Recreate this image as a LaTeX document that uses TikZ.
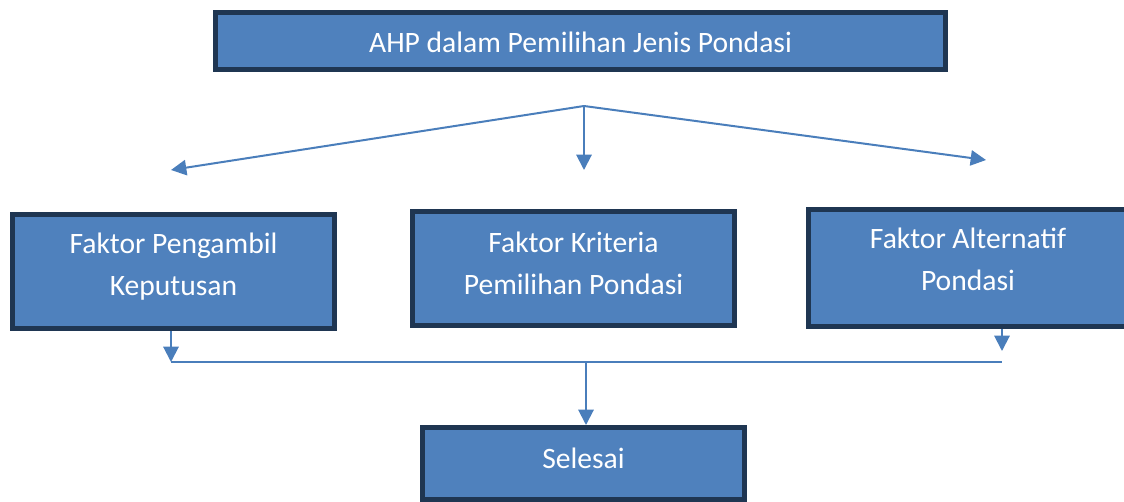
\documentclass[tikz,border=0pt]{standalone}
\usepackage{fontspec}
\setmainfont{Carlito}
\usetikzlibrary{arrows.meta}
\definecolor{boxfill}{HTML}{4F81BD}
\definecolor{boxline}{HTML}{1F3652}
\definecolor{conn}{HTML}{4A7EBB}
\tikzset{
  px/.style={x=0.75pt,y=-0.75pt},
  boxnode/.style={draw=boxline,fill=boxfill,line width=3.75pt,inner sep=0pt,rectangle},
  boxtext/.style={text=white,align=center,font=\fontsize{22.2}{31.5}\selectfont,inner sep=0pt},
  conline/.style={draw=conn,line width=1.5pt},
  conarrow/.style={conline,-{Triangle[length=11.5pt,width=11.5pt]}}
}
\begin{document}
\begin{tikzpicture}[px]
\useasboundingbox (0,0) rectangle (1124,502);
% boxes
\node[boxnode,minimum width=730*0.75pt,minimum height=57*0.75pt] (top) at (580.5,41) {};
\node[boxnode,minimum width=322*0.75pt,minimum height=114*0.75pt] (left) at (173.5,271.5) {};
\node[boxnode,minimum width=322*0.75pt,minimum height=114*0.75pt] (mid) at (573.5,268.5) {};
\node[boxnode,minimum width=319*0.75pt,minimum height=117*0.75pt] (right) at (968,268) {};
\node[boxnode,minimum width=322*0.75pt,minimum height=72*0.75pt] (end) at (583.5,463.5) {};
% texts
\node[boxtext] (toptext) at (580.5,42) {AHP dalam Pemilihan Jenis Pondasi};
\node[boxtext] (lefttext) at (173.5,267) {Faktor Pengambil\\Keputusan};
\node[boxtext] (midtext) at (573.5,263.5) {Faktor Kriteria\\Pemilihan Pondasi};
\node[boxtext] (righttext) at (968,259.5) {Faktor Alternatif\\Pondasi};
\node[boxtext] (endtext) at (583.5,458) {Selesai};
% connector coordinates
\coordinate (b) at (584,106);
\coordinate (tl) at (171,170);
\coordinate (tm) at (584,170);
\coordinate (tr) at (986,160);
\coordinate (jl) at (171,362);
\coordinate (jr) at (1002,362);
\coordinate (jm) at (586,362);
\coordinate (ar) at (1002,351);
% top branches
\draw[conarrow] (b) -- (tl);
\draw[conarrow] (b) -- (tm);
\draw[conarrow] (b) -- (tr);
% bottom join
\draw[conarrow] (left.south -| jl) -- (jl);
\draw[conarrow] (right.south -| ar) -- (ar);
\draw[conline] (jl) -- (jr);
\draw[conarrow] (jm) -- (end.north -| jm);
\end{tikzpicture}
\end{document}
